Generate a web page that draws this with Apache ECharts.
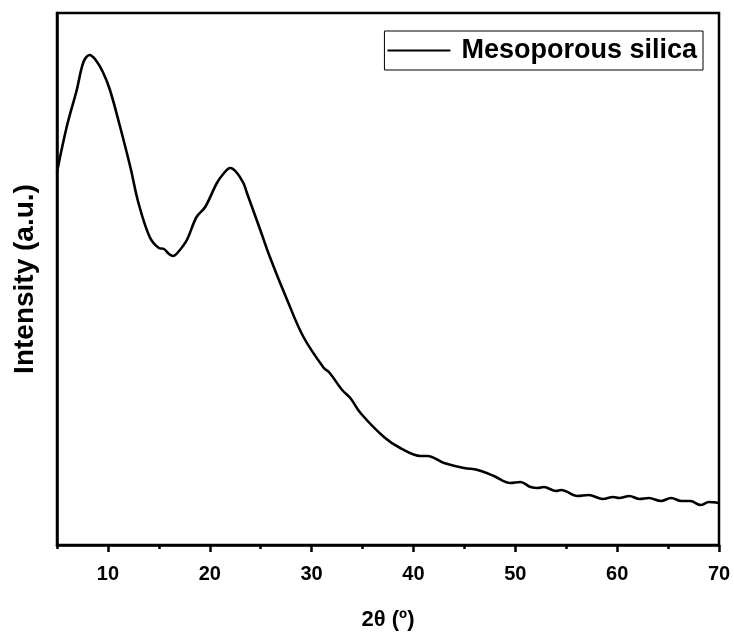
<!DOCTYPE html>
<html>
<head>
<meta charset="utf-8">
<script src="https://cdn.jsdelivr.net/npm/echarts@6/dist/echarts.min.js"></script>
<style>html,body{margin:0;padding:0;background:#fff}#c{width:734px;height:632px}</style>
</head>
<body>
<div id="c"></div>
<script>
var twoTheta = [5.0,5.95,6.94,7.6,8.2,8.8,9.5,10.2,11.2,12.2,13.0,14.1,15.0,15.5,16.0,16.4,16.9,17.75,18.7,19.55,20.7,21.4,22.0,22.6,23.3,23.65,24.96,25.9,27.6,29.2,31.2,31.7,33.0,33.8,34.8,37.1,38.7,40.7,41.4,43.0,45.0,46.3,47.9,49.5,50.5,51.5,52.2,52.8,54.0,54.5,56.1,57.2,58.6,59.6,60.2,61.2,62.2,63.1,64.3,65.3,66.3,67.2,68.2,69.0,70.0];
var intensity = [373,418,455,483,490,485,473,455,418,378,342,308,297,296,291,289,293,305,328,338,362,372,377,373,362,352,315,288,245,208,177,173,155,147,132,108,97,89,89,82,77,75,69,62,63,58,57,58,54,55,49,50,46,48,47,49,46,47,44,47,44,44,40,43,42];
var majorTicks = [10,20,30,40,50,60,70];
var minorTicks = [5,15,25,35,45,55,65];
var seriesName = 'Mesoporous silica';

var data = twoTheta.map(function(x,i){return [x, intensity[i]];});
var F = 'Liberation Sans, Arial, sans-serif';
var chart = echarts.init(document.getElementById('c'));
chart.setOption({
  animation:false,
  backgroundColor:'#fff',
  grid:{left:57,right:15,top:13,bottom:87,outerBoundsMode:'none',containLabel:false,show:true,borderColor:'#000',borderWidth:2.5,backgroundColor:'transparent'},
  legend:{
    show:true,right:31,top:31,orient:'horizontal',
    borderColor:'#000',borderWidth:1,padding:[6,6,6,3],
    itemWidth:63,itemHeight:14,itemGap:8,
    textStyle:{fontFamily:F,fontWeight:'bold',fontSize:27,color:'#000',padding:[0,0,0,6]},
    data:[{name:seriesName,icon:'path://M0,0 L63,0 L63,2 L0,2 Z'}]
  },
  xAxis:[{
    type:'value',min:5,max:70,interval:5,position:'bottom',
    name:'2θ (º)',nameLocation:'middle',nameGap:64,
    nameTextStyle:{fontFamily:F,fontWeight:'bold',fontSize:22,color:'#000'},
    axisLine:{show:true,lineStyle:{color:'#000',width:2.5}},
    axisTick:{show:true,length:7,inside:false,customValues:majorTicks,lineStyle:{color:'#000',width:2.5}},
    axisLabel:{show:true,customValues:majorTicks,margin:19,fontFamily:F,fontWeight:'bold',fontSize:20,color:'#000'},
    splitLine:{show:false}
  },{
    type:'value',min:5,max:70,interval:5,position:'bottom',gridIndex:0,
    axisLine:{show:false},
    axisTick:{show:true,length:4,customValues:minorTicks,lineStyle:{color:'#000',width:2.5}},
    axisLabel:{show:false},splitLine:{show:false}
  }],
  yAxis:{
    type:'value',min:0,max:532,
    name:'Intensity (a.u.)',nameLocation:'middle',nameGap:18,
    nameTextStyle:{fontFamily:F,fontWeight:'bold',fontSize:28,color:'#000'},
    axisLine:{show:true,lineStyle:{color:'#000',width:2.5}},
    axisTick:{show:false},axisLabel:{show:false},splitLine:{show:false}
  },
  series:[{
    name:seriesName,type:'line',xAxisIndex:0,data:data,smooth:0.35,symbol:'none',
    lineStyle:{color:'#000',width:2.6}, itemStyle:{color:'#000'}
  }]
});
</script>
</body>
</html>
